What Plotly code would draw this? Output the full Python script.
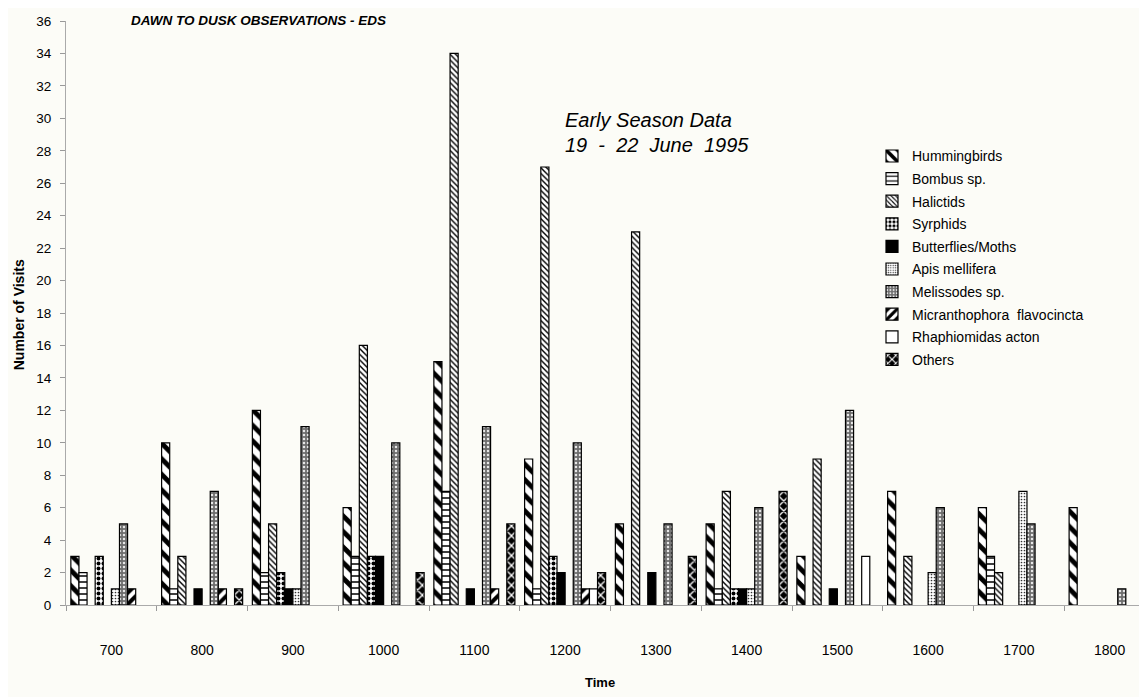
import plotly.graph_objects as go

# --- data (number of visits per hour) ---
times = ["700", "800", "900", "1000", "1100", "1200",
         "1300", "1400", "1500", "1600", "1700", "1800"]

hummingbirds   = [3, 10, 12, 6, 15, 9, 5, 5, 3, 7, 6, 6]
bombus         = [2, 1, 2, 3, 7, 1, 0, 1, 0, 0, 3, 0]
halictids      = [0, 3, 5, 16, 34, 27, 23, 7, 9, 3, 2, 0]
syrphids       = [3, 0, 2, 3, 0, 3, 0, 1, 0, 0, 0, 0]
butterflies    = [0, 1, 1, 3, 1, 2, 2, 1, 1, 0, 0, 0]
apis           = [1, 0, 1, 0, 0, 0, 0, 1, 0, 2, 7, 0]
melissodes     = [5, 7, 11, 10, 11, 10, 5, 6, 12, 6, 5, 1]
micranthophora = [1, 1, 0, 0, 1, 1, 0, 0, 0, 0, 0, 0]
rhaphiomidas   = [0, 0, 0, 0, 0, 1, 0, 0, 3, 0, 0, 0]
others         = [0, 1, 0, 2, 5, 2, 3, 7, 0, 0, 0, 0]

series = [
    ("Hummingbirds", hummingbirds),
    ("Bombus sp.", bombus),
    ("Halictids", halictids),
    ("Syrphids", syrphids),
    ("Butterflies/Moths", butterflies),
    ("Apis mellifera", apis),
    ("Melissodes sp.", melissodes),
    ("Micranthophora  flavocincta", micranthophora),
    ("Rhaphiomidas acton", rhaphiomidas),
    ("Others", others),
]

# fill styles (black & white hatching like the original)
styles = {
    "Hummingbirds": dict(color="white", pattern=dict(shape="\\", fgcolor="black", bgcolor="white", size=11, solidity=0.45)),
    "Bombus sp.": dict(color="white", pattern=dict(shape="-", fgcolor="black", bgcolor="white", size=6, solidity=0.25)),
    "Halictids": dict(color="white", pattern=dict(shape="\\", fgcolor="black", bgcolor="white", size=4, solidity=0.35)),
    "Syrphids": dict(color="white", pattern=dict(shape=".", fgcolor="black", bgcolor="white", size=5, solidity=0.5)),
    "Butterflies/Moths": dict(color="black"),
    "Apis mellifera": dict(color="white", pattern=dict(shape=".", fgcolor="#333", bgcolor="white", size=3, solidity=0.25)),
    "Melissodes sp.": dict(color="#7a7a7a", pattern=dict(shape=".", fgcolor="#e8e8e8", bgcolor="#6e6e6e", size=4, solidity=0.3)),
    "Micranthophora  flavocincta": dict(color="white", pattern=dict(shape="/", fgcolor="black", bgcolor="white", size=8, solidity=0.5)),
    "Rhaphiomidas acton": dict(color="white"),
    "Others": dict(color="black", pattern=dict(shape="x", fgcolor="white", bgcolor="black", size=7, solidity=0.35)),
}

FONT = "Liberation Sans, Arial, Helvetica, sans-serif"

# plot area in pixels
L, T, B = 58, 12.5, 597
W, H = 1147, 697
PW, PH = W - L, B - T


def px(x):
    return (x - L) / PW


def py(y):
    return (B - y) / PH


fig = go.Figure()
for i, (name, vals) in enumerate(series):
    st = styles[name]
    marker = dict(color=st["color"], line=dict(color="black", width=1.2))
    if "pattern" in st:
        marker["pattern"] = dict(fillmode="replace", **st["pattern"])
    fig.add_trace(go.Bar(
        x=times,
        y=[v if v else None for v in vals],
        name=name,
        marker=marker,
        legendgroup=f"g{i}",
    ))

bg = "#fcfcf7"
fig.update_layout(
    width=W, height=H,
    barmode="group", bargap=0.107, bargroupgap=0,
    paper_bgcolor=bg, plot_bgcolor=bg,
    margin=dict(l=L, r=0, t=T, b=H - B),
    font=dict(family=FONT, color="black", size=14),
    showlegend=True,
    legend=dict(
        x=px(864), y=py(132), xanchor="left", yanchor="top",
        bgcolor="rgba(0,0,0,0)", font=dict(size=14),
        tracegroupgap=1.4, itemclick=False,
    ),
    xaxis=dict(
        type="category", range=[-0.5, 11.5],
        tickson="boundaries", ticks="outside", ticklen=5,
        tickcolor="#999", showline=True, linecolor="#aaa", linewidth=1,
        showgrid=False, zeroline=False, ticklabelstandoff=32,
        tickfont=dict(size=14), automargin=False,
    ),
    yaxis=dict(
        range=[0, 36], dtick=2, ticks="outside", ticklen=5,
        tickcolor="#999", showline=True, linecolor="#aaa", linewidth=1,
        showgrid=False, zeroline=False, ticklabelstandoff=6,
        tickfont=dict(size=13.5), automargin=False,
    ),
    annotations=[
        dict(text="<b><i>DAWN TO DUSK OBSERVATIONS - EDS</i></b>",
             xref="paper", yref="paper", x=px(121), y=py(12),
             xanchor="left", yanchor="middle", showarrow=False,
             font=dict(size=13.5)),
        dict(text="<i>Early Season Data</i>",
             xref="paper", yref="paper", x=px(555), y=py(112),
             xanchor="left", yanchor="middle", showarrow=False,
             font=dict(size=20)),
        dict(text="<i>19  -  22  June  1995</i>",
             xref="paper", yref="paper", x=px(555), y=py(137),
             xanchor="left", yanchor="middle", showarrow=False,
             font=dict(size=20)),
        dict(text="<b>Number of Visits</b>",
             xref="paper", yref="paper", x=px(11), y=py(307),
             xanchor="center", yanchor="middle", showarrow=False, textangle=-90,
             font=dict(size=14)),
        dict(text="<b>Time</b>",
             xref="paper", yref="paper", x=px(592), y=py(675),
             xanchor="center", yanchor="middle", showarrow=False,
             font=dict(size=13)),
    ],
)

fig.write_html("out.html")
